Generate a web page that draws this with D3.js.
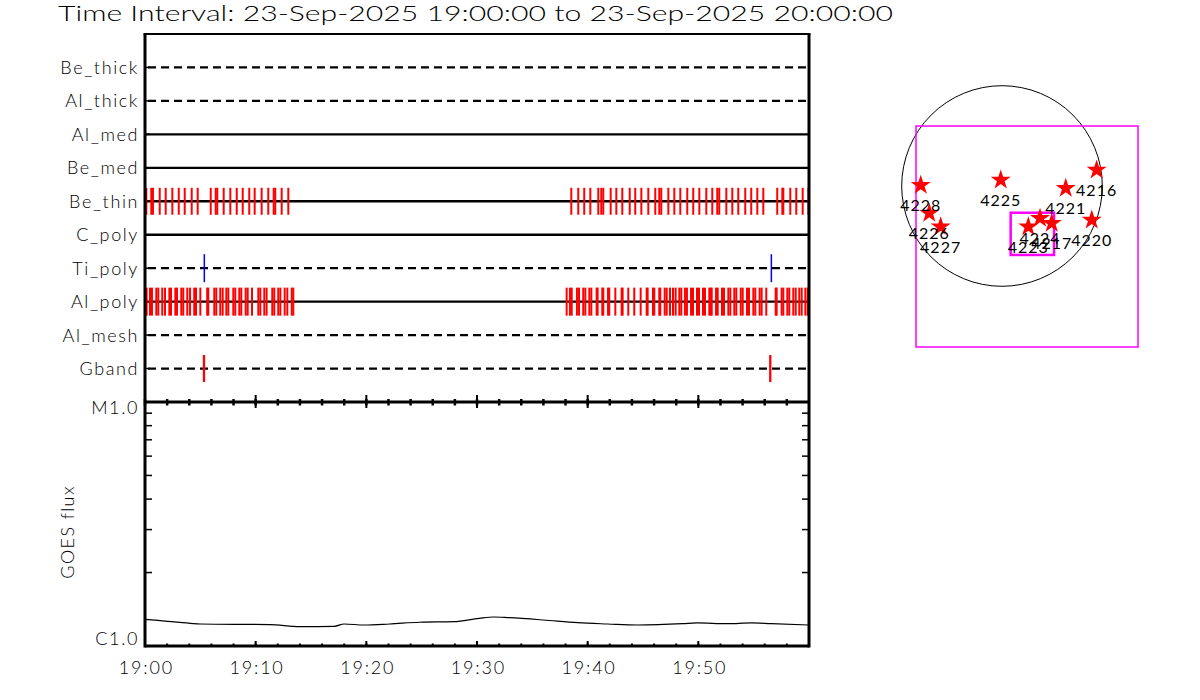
<!DOCTYPE html>
<html><head><meta charset="utf-8">
<script src="https://cdn.jsdelivr.net/npm/d3@7"></script>
<style>
body{margin:0;background:#fff;}
text{font-family:Lato,"DejaVu Sans",sans-serif;font-weight:300;fill:#000;}
</style>
</head><body>
<svg id="c" width="1200" height="700"></svg>
<script>
// ---------------- data ----------------
const titleText = "Time Interval: 23-Sep-2025 19:00:00 to 23-Sep-2025 20:00:00";
const rowLabels = ["Be_thick","Al_thick","Al_med","Be_med","Be_thin","C_poly","Ti_poly","Al_poly","Al_mesh","Gband"];
const rowDashed = [true,true,false,false,false,false,true,false,true,true];

// minutes after 19:00
const beThinMinutes = [0.12,0.57,0.72,1.33,1.87,2.47,3.05,3.59,4.22,4.76,5.94,6.39,6.53,7.11,7.71,8.29,8.83,9.42,9.91,10.54,11.14,11.63,11.77,12.35,12.95,
  38.52,39.15,39.69,40.24,40.96,41.23,41.41,42.08,42.59,43.13,43.80,44.30,44.85,45.48,46.11,46.47,46.65,47.29,47.83,48.37,49.00,49.54,50.09,50.72,51.26,51.71,51.89,52.53,53.07,53.61,54.24,54.78,55.33,55.87,57.13,57.59,57.68,58.31,58.85,59.43,59.95];
const alPolyMinutes = [0.02,0.15,0.45,0.63,1.02,1.20,1.56,1.81,2.20,2.35,2.74,2.89,3.28,3.46,3.82,4.07,4.45,4.61,5.00,5.62,5.72,6.26,6.44,6.80,7.02,7.35,7.53,7.98,8.16,8.52,8.70,9.10,9.28,9.67,10.24,10.42,10.78,10.99,11.50,11.68,12.04,12.23,12.62,12.86,13.26,13.40,
  38.10,38.40,38.56,39.03,39.22,39.60,39.79,40.15,40.33,40.81,40.90,41.32,41.41,41.84,41.95,42.50,43.07,43.16,43.67,44.21,44.79,45.33,45.42,45.90,46.02,46.47,46.56,46.96,47.14,47.44,47.71,47.95,48.28,48.46,48.79,48.97,49.34,49.52,49.88,50.06,50.42,50.60,50.99,51.12,51.21,51.60,51.75,52.14,52.32,52.71,52.89,53.25,53.43,53.83,54.01,54.40,54.58,54.97,55.15,55.54,55.72,56.14,56.99,57.08,57.53,57.68,58.04,58.22,58.58,58.80,59.12,59.34,59.67,59.88,59.98];
const tiPolyMinutes = [5.36, 56.6];
const gbandMinutes = [5.33, 56.5];

const goesMinutes = [0,1.4,4.1,5.0,11.3,14.0,17.1,18.0,19.8,22.1,24.8,27.9,30.2,31.5,32.9,36.0,39.1,41.8,44.5,48.6,49.9,52.6,54.8,56.6,60];
const goesFlux = [1.286e-6,1.27e-6,1.239e-6,1.231e-6,1.223e-6,1.200e-6,1.204e-6,1.231e-6,1.219e-6,1.231e-6,1.251e-6,1.258e-6,1.299e-6,1.315e-6,1.306e-6,1.278e-6,1.246e-6,1.231e-6,1.219e-6,1.234e-6,1.243e-6,1.234e-6,1.243e-6,1.234e-6,1.219e-6];
const goesTickLabels = ["C1.0","M1.0"];
const goesTickValues = [1e-6,1e-5];

const xTickLabelsMin = [0,10,20,30,40,50];

// solar map (arcsec)
const regionIds = ["4228","4226","4227","4225","4221","4216","4220","4224","4217","4223"];
const regionX = [-778,-696,-587,-12,610,906,859,364,476,252];
const regionY = [7,-261,-390,57,-22,153,-325,-309,-357,-390];
const solarRadius = 960;
const fovBox = [-823,1302,574,-1541];   // x0,x1,y0,y1
const flareBox = [83,498,-256,-660];

// ---------------- drawing ----------------
const svg = d3.select("#c");
const t0 = new Date(2025,8,23,19,0,0);
const toDate = m => new Date(+t0 + m*60000);

const L = 145, R = 809, T1 = 34, B1 = 402, B2 = 646;
const x = d3.scaleTime().domain([t0, toDate(60)]).range([L,R]);
const yRow = d3.scaleLinear().domain([0,11]).range([T1,B1]);
const yG = d3.scaleLog().domain([1e-6,1e-5]).range([B2,B1]);
const FONT = "Lato,'DejaVu Sans',sans-serif";

// title
svg.append("text").attr("x",58).attr("y",21).attr("font-size",22)
  .attr("textLength",835).attr("lengthAdjust","spacingAndGlyphs").text(titleText);

// rows
const rows = svg.append("g");
rowLabels.forEach((lab,i)=>{
  const y = yRow(i+1);
  rows.append("line").attr("x1",rowDashed[i]?148:L).attr("x2",rowDashed[i]?806:R)
    .attr("y1",y).attr("y2",y).attr("stroke","#000").attr("stroke-width",2.3)
    .attr("stroke-dasharray",rowDashed[i]?"8,5":null);
  rows.append("line").attr("x1",L).attr("x2",L+5).attr("y1",y).attr("y2",y).attr("stroke","#000").attr("stroke-width",1.5);
  rows.append("text").attr("x",139).attr("y",y+6.5).attr("font-size",18).attr("text-anchor","end")
    .attr("letter-spacing",1.6).text(lab);
});
function ticks(list,row,color,w,h){
  const y = yRow(row+1);
  rows.selectAll(null).data(list).enter().append("line")
    .attr("x1",d=>x(toDate(d))).attr("x2",d=>x(toDate(d)))
    .attr("y1",y-h).attr("y2",y+h).attr("stroke",color).attr("stroke-width",w);
}
ticks(beThinMinutes,4,"#ff0000",2,13.5);
ticks(alPolyMinutes,7,"#ff0000",2,14);
ticks(tiPolyMinutes,6,"#0000ff",1.5,14);
ticks(gbandMinutes,9,"#ff0000",2.3,13.5);

// frames
const fr = svg.append("g").attr("stroke","#000").attr("stroke-width",3).attr("fill","none");
fr.append("line").attr("x1",L-1.5).attr("x2",R+1.5).attr("y1",T1).attr("y2",T1).attr("stroke-width",2);
fr.append("line").attr("x1",L).attr("x2",L).attr("y1",T1).attr("y2",B2+1.5);
fr.append("line").attr("x1",R).attr("x2",R).attr("y1",T1).attr("y2",B2+1.5);
fr.append("line").attr("x1",L).attr("x2",R).attr("y1",B1).attr("y2",B1);
fr.append("line").attr("x1",L).attr("x2",R).attr("y1",B2).attr("y2",B2);

// time ticks
const minor = d3.timeMinute.every(2).range(t0, toDate(60));
const major = d3.timeMinute.every(10).range(t0, toDate(60));
const tk = svg.append("g").attr("stroke","#000");
tk.selectAll(null).data(minor).enter().append("line").attr("x1",d=>x(d)).attr("x2",d=>x(d))
  .attr("y1",B1-3).attr("y2",B1+3.5).attr("stroke-width",2.5);
tk.selectAll(null).data(major).enter().append("line").attr("x1",d=>x(d)).attr("x2",d=>x(d))
  .attr("y1",B1-7).attr("y2",B1+6).attr("stroke-width",2);
tk.selectAll(null).data(minor).enter().append("line").attr("x1",d=>x(d)).attr("x2",d=>x(d))
  .attr("y1",B2-2.5).attr("y2",B2).attr("stroke-width",2);
tk.selectAll(null).data(major).enter().append("line").attr("x1",d=>x(d)).attr("x2",d=>x(d))
  .attr("y1",B2-5).attr("y2",B2).attr("stroke-width",2);

// x axis labels
const xAxis = d3.axisBottom(x).tickValues(xTickLabelsMin.map(toDate))
  .tickFormat(d3.timeFormat("%H:%M")).tickSize(0).tickPadding(0);
const gx = svg.append("g").attr("transform",`translate(0,${B2})`).call(xAxis);
gx.select(".domain").remove();
gx.selectAll("text").attr("y",28).attr("dy",0).attr("font-size",18).attr("letter-spacing",1.8)
  .attr("dx",0.9).style("font-family",FONT).style("font-weight",300).attr("fill","#000");

// GOES y axis
const logMinor = [2e-6,3e-6,4e-6,5e-6,6e-6,7e-6,8e-6,9e-6];
const gy = svg.append("g").attr("stroke","#000").attr("stroke-width",1.5);
gy.selectAll(null).data(logMinor).enter().append("line").attr("x1",L).attr("x2",L+7)
  .attr("y1",d=>yG(d)).attr("y2",d=>yG(d));
gy.selectAll(null).data(logMinor).enter().append("line").attr("x1",R-7).attr("x2",R)
  .attr("y1",d=>yG(d)).attr("y2",d=>yG(d));
const yAxis = d3.axisLeft(yG).tickValues(goesTickValues).tickFormat((d,i)=>goesTickLabels[i]).tickSize(0).tickPadding(0);
const gya = svg.append("g").attr("transform",`translate(${L},0)`).call(yAxis);
gya.select(".domain").remove();
gya.selectAll("text").attr("x",-6).attr("font-size",18).attr("letter-spacing",1.6)
  .style("font-family",FONT).style("font-weight",300).attr("fill","#000")
  .attr("dy",(d)=> d===1e-5 ? "0.65em" : "-0.1em");
svg.append("text").attr("transform","translate(74,532) rotate(-90)").attr("text-anchor","middle")
  .attr("font-size",18).attr("letter-spacing",1.4).text("GOES flux");

// GOES curve
const line = d3.line().x((d,i)=>x(toDate(goesMinutes[i]))).y(d=>yG(d)).curve(d3.curveMonotoneX);
svg.append("path").datum(goesFlux).attr("d",line).attr("fill","none").attr("stroke","#000").attr("stroke-width",1.2);

// ---------------- solar map ----------------
const k = 100.3/960;
const mx = d3.scaleLinear().domain([-1200,1600]).range([1002-1200*k, 1002+1600*k]);
const my = d3.scaleLinear().domain([-1600,1200]).range([186+1600*k, 186-1200*k]);
const map = svg.append("g");
map.append("circle").attr("cx",mx(0)).attr("cy",my(0)).attr("r",mx(solarRadius)-mx(0))
  .attr("fill","none").attr("stroke","#000").attr("stroke-width",1);
map.append("rect").attr("x",mx(fovBox[0])).attr("y",my(fovBox[2]))
  .attr("width",mx(fovBox[1])-mx(fovBox[0])).attr("height",my(fovBox[3])-my(fovBox[2]))
  .attr("fill","none").attr("stroke","#ff00ff").attr("stroke-width",1.5);
map.append("rect").attr("x",mx(flareBox[0])).attr("y",my(flareBox[2]))
  .attr("width",mx(flareBox[1])-mx(flareBox[0])).attr("height",my(flareBox[3])-my(flareBox[2]))
  .attr("fill","none").attr("stroke","#ff00ff").attr("stroke-width",2.5);
const star = d3.symbol(d3.symbolStar, 125);
regionIds.forEach((id,i)=>{
  map.append("path").attr("d",star()).attr("fill","#ff0000")
    .attr("transform",`translate(${mx(regionX[i])},${my(regionY[i])})`);
});
regionIds.forEach((id,i)=>{
  map.append("text").attr("x",mx(regionX[i])).attr("y",my(regionY[i])+26)
    .attr("text-anchor","middle").attr("font-size",16).attr("letter-spacing",1)
    .style("font-weight",400).text(id);
});
</script>
</body></html>
